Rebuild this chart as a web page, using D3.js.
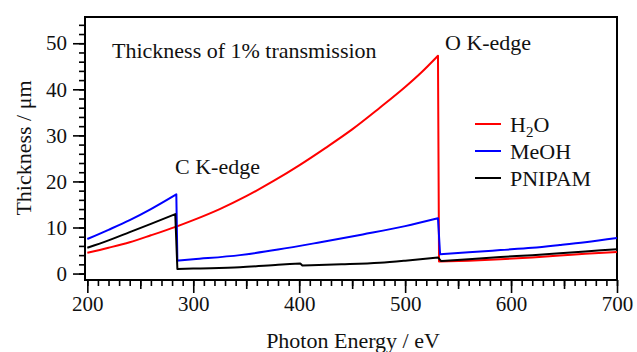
<!DOCTYPE html>
<html>
<head>
<meta charset="utf-8">
<script src="https://cdn.jsdelivr.net/npm/d3@7"></script>
<style>
  body { margin: 0; background: #fff; }
  svg { display: block; }
  text { font-family: "Liberation Serif", "Times New Roman", serif; fill: #111; }
</style>
</head>
<body>
<svg id="chart"></svg>
<script>
// Data (photon energy in eV, thickness in um)
var h2oEnergy = [200, 220, 240, 260, 284, 300, 325, 350, 375, 400, 425, 450, 475, 500, 515, 531, 532, 560, 590, 620, 646, 670, 700];
var h2oThick = [4.5, 5.6, 6.8, 8.3, 10.2, 11.6, 14.0, 16.8, 20.0, 23.5, 27.3, 31.3, 35.8, 40.5, 43.6, 47.3, 2.6, 2.8, 3.1, 3.5, 3.9, 4.3, 4.7];

var meohEnergy = [200, 220, 240, 260, 284, 285, 300, 344, 380, 420, 460, 500, 531, 533, 560, 590, 620, 646, 670, 700];
var meohThick = [7.5, 9.5, 11.6, 14.0, 17.2, 2.8, 3.1, 4.0, 5.2, 6.8, 8.5, 10.3, 12.0, 4.2, 4.6, 5.1, 5.6, 6.2, 6.8, 7.7];

var pnipamEnergy = [200, 220, 240, 260, 283, 285, 300, 344, 380, 401, 403, 440, 476, 500, 531, 534, 560, 590, 620, 646, 670, 700];
var pnipamThick = [5.6, 7.2, 9.0, 10.8, 12.9, 1.0, 1.1, 1.35, 1.9, 2.2, 1.75, 2.0, 2.35, 2.8, 3.5, 2.7, 3.1, 3.6, 4.0, 4.4, 4.8, 5.3];

var seriesNames = ["H\u2082O", "MeOH", "PNIPAM"];
var seriesColors = ["#ff0000", "#0000ff", "#000000"];

var xTicks = [200, 300, 400, 500, 600, 700];
var yTicks = [0, 10, 20, 30, 40, 50];

var width = 637, height = 352;
var margin = { left: 85, right: 617, top: 17, bottom: 280 };

var svg = d3.select("#chart")
  .attr("width", width)
  .attr("height", height);

var x = d3.scaleLinear().domain([197.8, 700]).range([margin.left, margin.right]);
var y = d3.scaleLinear().domain([-1.4, 55.7]).range([margin.bottom, margin.top]);

// minor / medium / major ticks on x
svg.append("g")
  .attr("transform", "translate(0," + margin.bottom + ")")
  .call(d3.axisBottom(x).tickValues(d3.range(200, 701, 10)).tickSize(6).tickFormat(""))
  .call(g => g.select(".domain").remove());
svg.append("g")
  .attr("transform", "translate(0," + margin.bottom + ")")
  .call(d3.axisBottom(x).tickValues(d3.range(250, 701, 100)).tickSize(9).tickFormat(""))
  .call(g => g.select(".domain").remove());
svg.append("g")
  .attr("transform", "translate(0," + margin.bottom + ")")
  .call(d3.axisBottom(x).tickValues(xTicks).tickSize(13).tickPadding(3))
  .call(g => g.select(".domain").remove());

// y ticks
svg.append("g")
  .attr("transform", "translate(" + margin.left + ",0)")
  .call(d3.axisLeft(y).tickValues(d3.range(0, 55, 2)).tickSize(6).tickFormat(""))
  .call(g => g.select(".domain").remove());
svg.append("g")
  .attr("transform", "translate(" + margin.left + ",0)")
  .call(d3.axisLeft(y).tickValues(yTicks).tickSize(12).tickPadding(6))
  .call(g => g.select(".domain").remove());

svg.selectAll(".tick line").attr("stroke", "#000").attr("stroke-width", 1.6);
svg.selectAll(".tick text")
  .attr("font-family", "Liberation Serif")
  .attr("font-size", 21)
  .attr("fill", "#111");

// frame
svg.append("rect")
  .attr("x", margin.left).attr("y", margin.top)
  .attr("width", margin.right - margin.left).attr("height", margin.bottom - margin.top)
  .attr("fill", "none").attr("stroke", "#000").attr("stroke-width", 2);

// curves: smooth between edges, straight drop at each edge
var series = [
  { e: h2oEnergy, t: h2oThick },
  { e: meohEnergy, t: meohThick },
  { e: pnipamEnergy, t: pnipamThick }
];
var smooth = d3.line()
  .x(d => x(d[0]))
  .y(d => y(d[1]))
  .curve(d3.curveMonotoneX);

series.forEach(function (s, i) {
  var pts = s.e.map((v, k) => [v, s.t[k]]);
  // split where the energy step is tiny (an absorption edge)
  var pieces = [[pts[0]]];
  for (var k = 1; k < pts.length; k++) {
    if (pts[k][0] - pts[k - 1][0] < 4) pieces.push([]);
    pieces[pieces.length - 1].push(pts[k]);
  }
  var d = pieces.map(p => smooth(p)).join("")
  // join pieces with straight drops: replace each "M" after the first with "L"
  d = d.replace(/M/g, "L").replace(/^L/, "M");
  svg.append("path")
    .attr("fill", "none")
    .attr("stroke", seriesColors[i])
    .attr("stroke-width", 2)
    .attr("stroke-linejoin", "round")
    .attr("d", d);
});

// legend
var legend = svg.append("g").attr("transform", "translate(475,124)");
seriesNames.forEach(function (n, i) {
  legend.append("line")
    .attr("x1", 0).attr("x2", 26)
    .attr("y1", i * 27).attr("y2", i * 27)
    .attr("stroke", seriesColors[i]).attr("stroke-width", 2);
  var t = legend.append("text")
    .attr("x", 35).attr("y", i * 27 + 8)
    .attr("font-size", 22);
  if (i == 0) {
    t.append("tspan").text("H");
    t.append("tspan").attr("font-size", 15).attr("dy", 5).text("2");
    t.append("tspan").attr("dy", -5).text("O");
  } else {
    t.text(n);
  }
});

// annotations
svg.append("text").attr("x", 112).attr("y", 58).attr("font-size", 22).text("Thickness of 1% transmission");
svg.append("text").attr("x", 175).attr("y", 174).attr("font-size", 22).text("C K-edge");
svg.append("text").attr("x", 445).attr("y", 50).attr("font-size", 22).text("O K-edge");

// axis titles
svg.append("text")
  .attr("x", 353).attr("y", 348)
  .attr("text-anchor", "middle")
  .attr("font-size", 22)
  .text("Photon Energy / eV");
svg.append("text")
  .attr("transform", "translate(31,148) rotate(-90)")
  .attr("text-anchor", "middle")
  .attr("font-size", 22)
  .text("Thickness / \u03bcm");
</script>
</body>
</html>
